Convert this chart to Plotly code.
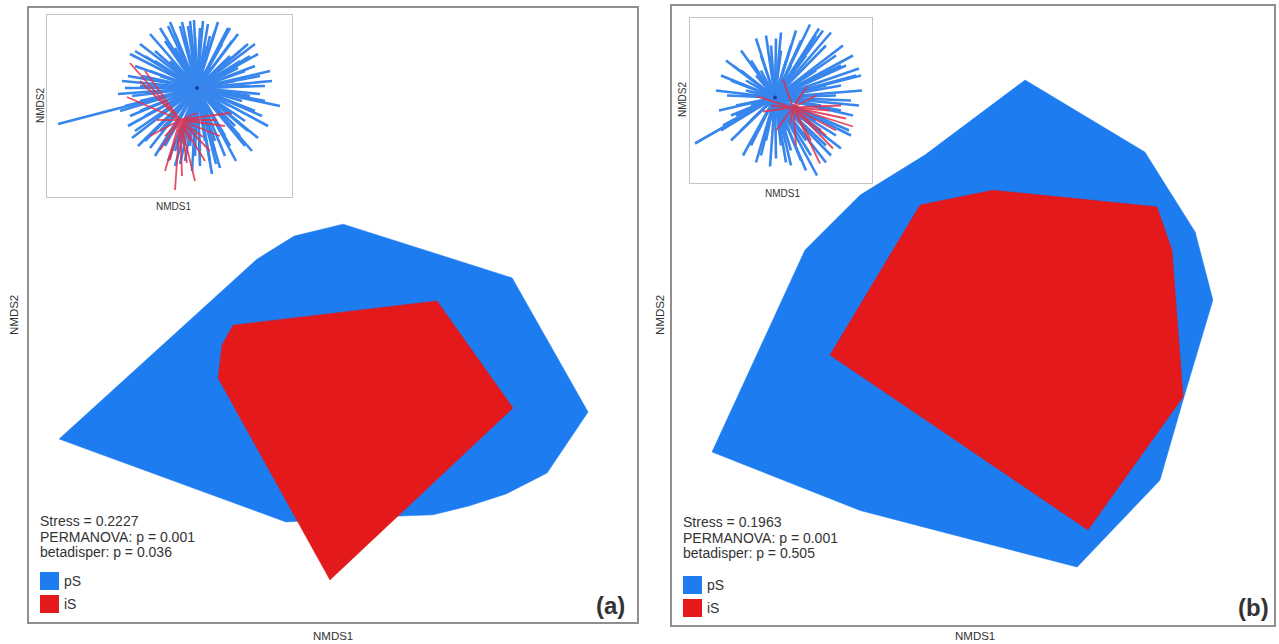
import plotly.graph_objects as go

# ---------------- data (NMDS-like units) ----------------
# Panel (a) hulls
a_pS_x = [-0.901, -0.296, -0.250, -0.128, 0.033, 0.589, 0.839, 0.704, 0.569, 0.447, 0.329, 0.220, -0.155]
a_pS_y = [-0.404, 0.140, 0.182, 0.257, 0.296, 0.121, -0.316, -0.515, -0.583, -0.622, -0.651, -0.655, -0.674]
a_iS_x = [-0.329, 0.342, 0.592, -0.010, -0.378, -0.365]
a_iS_y = [-0.033, 0.046, -0.303, -0.863, -0.205, -0.098]

# Panel (b) hulls
b_pS_x = [0.173, 0.571, 0.738, 0.797, 0.698, 0.621, 0.346, -0.375, -0.867, -0.558, -0.375, -0.159]
b_pS_y = [0.761, 0.528, 0.270, 0.050, -0.273, -0.532, -0.813, -0.630, -0.441, 0.212, 0.389, 0.519]
b_iS_x = [-0.176, 0.066, 0.611, 0.661, 0.698, 0.382, -0.475]
b_iS_y = [0.357, 0.405, 0.351, 0.212, -0.263, -0.693, -0.128]

# Inset (a) spider: centroids and sample points
a_cen_pS = (0.27, 0.18)
a_cen_iS = (0.10, -0.14)
a_spider_pS = [(0.10, 0.80), (0.20, 0.85), (0.30, 0.78), (0.38, 0.82), (0.45, 0.75), (0.55, 0.70), (0.62, 0.65),
               (0.05, 0.72), (-0.05, 0.65), (0.15, 0.68), (0.25, 0.70), (0.50, 0.60), (0.70, 0.55),
               (0.85, 0.40), (0.90, 0.30), (0.95, 0.20), (1.10, 0.00), (0.80, 0.10), (0.85, -0.05),
               (0.75, -0.15), (0.70, 0.45), (0.95, 0.05), (0.65, 0.25),
               (0.70, -0.30), (0.60, -0.40), (0.55, -0.50), (0.45, -0.45), (0.40, -0.55), (0.35, -0.35),
               (0.50, -0.25), (0.65, -0.20),
               (0.25, -0.50), (0.15, -0.55), (0.05, -0.45), (0.20, -0.40), (0.30, -0.60), (-0.05, -0.40),
               (-0.15, -0.50), (-0.25, -0.35),
               (-0.35, -0.25), (-0.40, -0.10), (-0.45, 0.00), (-0.38, 0.10), (-0.30, 0.20), (-0.42, 0.30),
               (-0.35, 0.40), (-0.25, 0.50), (-0.15, 0.55), (-0.20, 0.35), (-1.12, -0.18), (-0.30, -0.05),
               (-0.10, 0.30), (0.00, 0.45),
               (0.40, 0.40), (0.10, 0.10), (0.55, 0.35), (0.45, 0.10), (0.20, 0.50), (0.00, 0.00),
               (0.60, 0.00), (0.35, -0.15), (0.80, 0.50), (0.58, 0.78), (-0.10, 0.78), (0.75, -0.40),
               (0.05, -0.60), (-0.45, 0.18), (0.92, -0.10),
               (0.33, 0.85), (0.48, 0.84), (0.68, 0.72), (0.78, 0.62), (0.88, 0.52), (1.00, 0.35), (1.02, 0.25),
               (0.98, -0.20), (0.88, -0.32), (0.82, -0.45), (0.66, -0.55), (0.50, -0.62), (0.42, -0.68),
               (0.22, -0.65), (0.10, -0.58), (-0.02, -0.55), (-0.20, -0.42), (-0.32, -0.40), (-0.42, -0.20),
               (-0.50, -0.05), (-0.52, 0.12), (-0.48, 0.25), (-0.40, 0.52), (-0.30, 0.62), (-0.20, 0.72),
               (-0.02, 0.80), (0.12, 0.84), (0.24, 0.86), (0.40, 0.70), (0.60, 0.50), (0.75, 0.35),
               (0.80, 0.20), (0.72, 0.05), (0.62, -0.08), (0.55, -0.30), (0.45, -0.35), (0.30, -0.45),
               (0.10, -0.35), (-0.10, -0.25), (-0.25, -0.10), (-0.30, 0.05), (-0.28, 0.30), (-0.15, 0.45),
               (0.05, 0.58), (0.35, 0.60), (0.52, 0.62), (0.68, 0.38), (0.90, 0.12), (0.85, 0.62),
               (-0.35, 0.55), (0.00, 0.84), (0.46, -0.58), (0.78, -0.25), (-0.38, -0.32), (0.60, 0.78),
               (0.18, 0.80)]
a_spider_iS = [(0.05, -0.84), (-0.40, 0.43), (-0.43, 0.09), (0.60, -0.07), (0.33, -0.31), (0.17, -0.57),
               (0.00, -0.54), (-0.10, -0.44), (-0.13, -0.14), (0.47, -0.14), (0.27, -0.07), (0.12, -0.70),
               (-0.30, 0.25), (0.40, -0.45), (-0.20, -0.30), (0.20, -0.35), (0.08, -0.45), (0.55, -0.20),
               (-0.05, -0.65), (-0.25, 0.35), (0.35, -0.55), (0.25, -0.75), (-0.05, -0.30), (0.50, -0.30)]

# Inset (b) spider
b_cen_pS = (-0.06, 0.03)
b_cen_iS = (0.12, -0.07)
b_spider_pS = [(0.29, 0.76), (0.20, 0.60), (0.10, 0.55), (0.00, 0.50), (-0.10, 0.55), (-0.20, 0.45), (0.35, 0.65),
               (0.45, 0.55), (0.05, 0.40), (-0.30, 0.40), (0.25, 0.45),
               (0.55, 0.45), (0.65, 0.35), (0.75, 0.25), (0.81, 0.10), (0.70, 0.00), (0.60, 0.15), (0.50, 0.30),
               (0.72, -0.15), (0.60, -0.10),
               (0.55, -0.35), (0.45, -0.45), (0.36, -0.75), (0.30, -0.55), (0.20, -0.60), (0.40, -0.30),
               (0.10, -0.50), (0.50, -0.55),
               (-0.11, -0.66), (-0.20, -0.55), (0.00, -0.45), (-0.30, -0.45), (-0.40, -0.30), (0.15, -0.35),
               (-0.50, -0.15), (-0.54, 0.05), (-0.50, 0.20), (-0.40, 0.30), (-0.45, -0.05), (-0.35, 0.10),
               (-0.86, -0.43), (-0.60, -0.30), (-0.30, -0.20), (-0.25, 0.25),
               (0.10, 0.20), (0.30, 0.10), (-0.10, -0.20), (0.20, -0.20), (0.35, 0.30), (-0.15, 0.10),
               (0.42, 0.70), (-0.05, 0.62), (0.68, -0.30), (0.05, -0.62), (-0.48, 0.35), (0.78, 0.32),
               (-0.25, 0.62), (-0.40, 0.50), (-0.55, 0.40), (-0.60, 0.25), (-0.65, 0.10), (-0.62, -0.10),
               (-0.58, -0.25), (-0.50, -0.40), (-0.38, -0.55), (-0.25, -0.62), (-0.05, -0.58), (0.10, -0.65),
               (0.25, -0.70), (0.45, -0.62), (0.60, -0.48), (0.70, -0.35), (0.78, -0.05), (0.80, 0.25),
               (0.72, 0.45), (0.62, 0.55), (0.50, 0.68), (0.38, 0.72), (0.15, 0.70), (0.00, 0.68),
               (-0.15, 0.65), (0.30, 0.55), (0.20, 0.40), (-0.35, 0.20), (-0.30, -0.05), (0.40, -0.05),
               (0.45, 0.15), (0.25, -0.40), (-0.15, -0.40), (-0.45, -0.15), (0.55, 0.05), (0.10, 0.35),
               (-0.20, 0.30), (0.35, -0.20), (-0.40, 0.05), (0.05, -0.30), (0.60, 0.35), (-0.10, 0.45)]
b_spider_iS = [(0.72, -0.26), (0.49, -0.10), (0.39, -0.63), (-0.24, 0.04), (0.09, -0.23), (0.26, 0.14),
               (-0.18, -0.11), (0.02, 0.21), (0.55, -0.30), (0.30, -0.40), (0.60, -0.05), (-0.05, -0.30),
               (0.35, 0.05), (0.15, -0.45), (0.45, -0.35), (0.52, -0.48), (0.65, -0.18), (-0.10, -0.05),
               (0.20, 0.05)]

stats_a = ["Stress = 0.2227", "PERMANOVA: p = 0.001", "betadisper: p = 0.036"]
stats_b = ["Stress = 0.1963", "PERMANOVA: p = 0.001", "betadisper: p = 0.505"]
groups = ["pS", "iS"]
panel_tags = ["(a)", "(b)"]

BLUE = "#1C7CF0"
RED = "#E3191C"
FRAME = "#8f8f8f"
INSET_FRAME = "#c4c4c4"
TXT = "#333333"
FONT = "Liberation Sans, Arial, Helvetica, sans-serif"

W, H = 1279, 644


def px(x):
    return x / W


def py(y):
    return 1 - y / H


def spider(cen, pts):
    xs, ys = [], []
    for (x, y) in pts:
        xs += [cen[0], x, None]
        ys += [cen[1], y, None]
    return xs, ys


fig = go.Figure()

# main polygons
for (xs, ys, col, ax) in [(a_pS_x, a_pS_y, BLUE, ("x", "y")), (a_iS_x, a_iS_y, RED, ("x", "y")),
                          (b_pS_x, b_pS_y, BLUE, ("x2", "y2")), (b_iS_x, b_iS_y, RED, ("x2", "y2"))]:
    fig.add_trace(go.Scatter(x=xs + [xs[0]], y=ys + [ys[0]], fill="toself", fillcolor=col, mode="lines",
                             line=dict(color=col, width=0.5), xaxis=ax[0], yaxis=ax[1],
                             showlegend=False, hoverinfo="skip"))

# insets
for (cp, pp, ci, pi, ax) in [(a_cen_pS, a_spider_pS, a_cen_iS, a_spider_iS, ("x3", "y3")),
                             (b_cen_pS, b_spider_pS, b_cen_iS, b_spider_iS, ("x4", "y4"))]:
    xs, ys = spider(cp, pp)
    fig.add_trace(go.Scatter(x=xs, y=ys, mode="lines", line=dict(color="#2279ec", width=2.6), opacity=0.9,
                             xaxis=ax[0], yaxis=ax[1], showlegend=False, hoverinfo="skip"))
    xs, ys = spider(ci, pi)
    fig.add_trace(go.Scatter(x=xs, y=ys, mode="lines", line=dict(color="#e3304a", width=1.8), opacity=0.85,
                             xaxis=ax[0], yaxis=ax[1], showlegend=False, hoverinfo="skip"))
    fig.add_trace(go.Scatter(x=[cp[0]], y=[cp[1]], mode="markers", marker=dict(color="#1a3fa0", size=4),
                             xaxis=ax[0], yaxis=ax[1], showlegend=False, hoverinfo="skip"))

main_ax = dict(showgrid=False, zeroline=False, showticklabels=False, ticks="", showline=True,
               mirror=True, linecolor=FRAME, linewidth=2)
ins_ax = dict(showgrid=False, zeroline=False, showticklabels=False, ticks="", showline=True,
              mirror=True, linecolor=INSET_FRAME, linewidth=1)

fig.update_layout(
    width=W, height=H, margin=dict(l=0, r=0, t=0, b=0), paper_bgcolor="white", plot_bgcolor="white",
    font=dict(family=FONT, color=TXT),
    xaxis=dict(domain=[px(29), px(637)], range=[-1, 1], anchor="y", **main_ax),
    yaxis=dict(domain=[py(622), py(8)], range=[-1, 1], anchor="x", **main_ax),
    xaxis2=dict(domain=[px(672), px(1274)], range=[-1, 1], anchor="y2", **main_ax),
    yaxis2=dict(domain=[py(625), py(6)], range=[-1, 1], anchor="x2", **main_ax),
    xaxis3=dict(domain=[px(47), px(292)], range=[-1.23, 1.22], anchor="y3", **ins_ax),
    yaxis3=dict(domain=[py(197), py(15)], range=[-0.91, 0.91], anchor="x3", **ins_ax),
    xaxis4=dict(domain=[px(690), px(872)], range=[-0.91, 0.91], anchor="y4", **ins_ax),
    yaxis4=dict(domain=[py(183), py(18)], range=[-0.825, 0.825], anchor="x4", **ins_ax),
)

ann = []
shapes = []


def text(x, y, s, size=12, angle=0, xanchor="center", bold=False):
    ann.append(dict(x=px(x), y=py(y), xref="paper", yref="paper", text=f"<b>{s}</b>" if bold else s,
                    showarrow=False, xanchor=xanchor, yanchor="middle", textangle=angle,
                    font=dict(size=size, color=TXT, family=FONT)))


# axis labels
text(333, 636, "NMDS1", 11.5)
text(14, 315, "NMDS2", 11.5, angle=-90)
text(975, 636, "NMDS1", 11.5)
text(660, 315, "NMDS2", 11.5, angle=-90)
text(173, 207, "NMDS1", 10)
text(40, 106, "NMDS2", 10, angle=-90)
text(782, 193, "NMDS1", 10)
text(683, 100, "NMDS2", 10, angle=-90)

# stats and legends
for (x0, y0, lines, ly) in [(38, 521, stats_a, 572), (681, 522, stats_b, 576)]:
    for i, s in enumerate(lines):
        text(x0, y0 + i * 15.5, s, 14, xanchor="left")
    for j, (g, col) in enumerate(zip(groups, [BLUE, RED])):
        top = ly + j * 23
        shapes.append(dict(type="rect", xref="paper", yref="paper", x0=px(x0 + 2), x1=px(x0 + 21),
                           y0=py(top + 18), y1=py(top), fillcolor=col, line=dict(width=0)))
        text(x0 + 24, top + 9, g, 14, xanchor="left")

text(610, 605, panel_tags[0], 24, bold=True)
text(1253, 607, panel_tags[1], 24, bold=True)

fig.update_layout(annotations=ann, shapes=shapes)
fig.write_html("out.html")
